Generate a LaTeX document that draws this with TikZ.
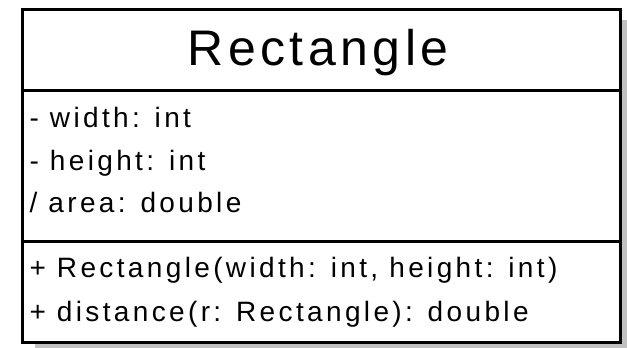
\documentclass[tikz,border=0pt]{standalone}
\usepackage{fontspec}
\setmainfont{Liberation Sans}
\newfontfamily\membfont[LetterSpace=12]{Liberation Sans}
\newfontfamily\titlefont[LetterSpace=9]{Liberation Sans}
\definecolor{shadowgray}{RGB}{192,192,192}
\begin{document}
\begin{tikzpicture}[x=1pt,y=-1pt,line width=3pt,
  member/.style={anchor=base west,inner sep=0pt,font=\membfont\fontsize{28}{28}\selectfont}]
  \useasboundingbox (0,0) rectangle (627,348);
  % shadow and box
  \fill[shadowgray] (35,20) rectangle (627,348);
  \draw[fill=white] (22.5,9.5) rectangle (620.5,342.5);
  \draw (22.5,90) -- (620.5,90);
  \draw (22.5,241) -- (620.5,241);
  % name
  \node[anchor=base,inner sep=0pt,font=\titlefont\fontsize{50}{50}\selectfont] (name) at (318,65) {Rectangle};
  % attributes
  \node[member] (width) at (28,127) {- width: int};
  \node[member] (height) at (28,170) {- height: int};
  \node[member] (area) at (28,212) {/ area: double};
  % operations
  \node[member] (ctor) at (28,277) {+ Rectangle(width: int, height: int)};
  \node[member] (dist) at (28,321) {+ distance(r: Rectangle): double};
\end{tikzpicture}
\end{document}
